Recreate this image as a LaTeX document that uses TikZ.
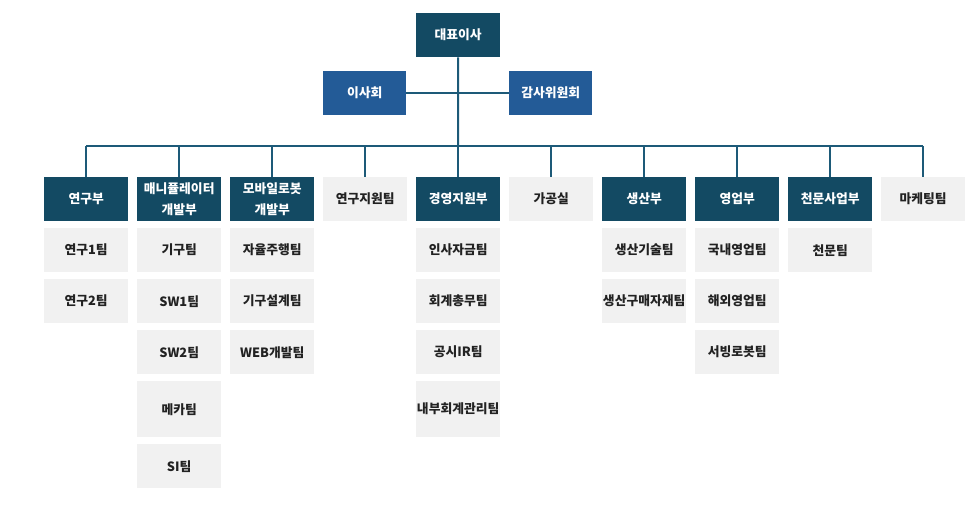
\documentclass[tikz,border=0pt]{standalone}
\usepackage{fontspec}
\setmainfont{Noto Sans CJK KR}
\definecolor{darkc}{HTML}{134A63}
\definecolor{midc}{HTML}{235B97}
\definecolor{grayc}{HTML}{F1F1F1}
\definecolor{linec}{HTML}{1D5A78}
\definecolor{txtc}{HTML}{222222}
\begin{document}
\begin{tikzpicture}[x=1pt,y=-1pt,
  base/.style={anchor=north west,minimum width=84pt,inner sep=0pt,font=\fontsize{12.8}{21.5}\selectfont\bfseries,align=center},
  dark/.style={base,fill=darkc,text=white,minimum height=44pt},
  mid/.style={base,fill=midc,text=white,minimum width=83pt,minimum height=44pt},
  grey/.style={base,fill=grayc,text=txtc,minimum height=44pt},
  tall/.style={base,fill=grayc,text=txtc,minimum height=56pt},
  conn/.style={draw=linec,line width=2pt}]
\useasboundingbox (0,0) rectangle (978,505);
% top
\node[dark] (ceo) at (416,13) {대표이사};
\node[mid] (board) at (323,71) {이사회};
\node[mid] (audit) at (509,71) {감사위원회};
% headers
\node[dark] (h1) at (44,177) {연구부};
\node[dark] (h2) at (137,177) {매니퓰레이터\\개발부};
\node[dark] (h3) at (230,177) {모바일로봇\\개발부};
\node[grey] (h4) at (323,177) {연구지원팀};
\node[dark] (h5) at (416,177) {경영지원부};
\node[grey] (h6) at (509,177) {가공실};
\node[dark] (h7) at (602,177) {생산부};
\node[dark] (h8) at (695,177) {영업부};
\node[dark] (h9) at (788,177) {천문사업부};
\node[grey] (h10) at (881,177) {마케팅팀};
% subs
\node[grey] (s11) at (44,228) {연구1팀};
\node[grey] (s12) at (44,279) {연구2팀};
\node[grey] (s21) at (137,228) {기구팀};
\node[grey] (s22) at (137,279) {SW1팀};
\node[grey] (s23) at (137,330) {SW2팀};
\node[tall] (s24) at (137,381) {메카팀};
\node[grey] (s25) at (137,444) {SI팀};
\node[grey] (s31) at (230,228) {자율주행팀};
\node[grey] (s32) at (230,279) {기구설계팀};
\node[grey] (s33) at (230,330) {WEB개발팀};
\node[grey] (s51) at (416,228) {인사자금팀};
\node[grey] (s52) at (416,279) {회계총무팀};
\node[grey] (s53) at (416,330) {공시IR팀};
\node[tall] (s54) at (416,381) {내부회계관리팀};
\node[grey] (s71) at (602,228) {생산기술팀};
\node[grey] (s72) at (602,279) {생산구매자재팀};
\node[grey] (s81) at (695,228) {국내영업팀};
\node[grey] (s82) at (695,279) {해외영업팀};
\node[grey] (s83) at (695,330) {서빙로봇팀};
\node[grey] (s91) at (788,228) {천문팀};
% connectors
\coordinate (bus) at (458,146);
\draw[conn] (board.east) -- (audit.west);
\draw[conn] (ceo.south) -- (bus);
\draw[conn] (h1.north |- bus) -- (h10.north |- bus);
\foreach \h in {h1,h2,h3,h4,h5,h6,h7,h8,h9,h10}
  \draw[conn] (\h.north |- bus) -- (\h.north);
\end{tikzpicture}
\end{document}
